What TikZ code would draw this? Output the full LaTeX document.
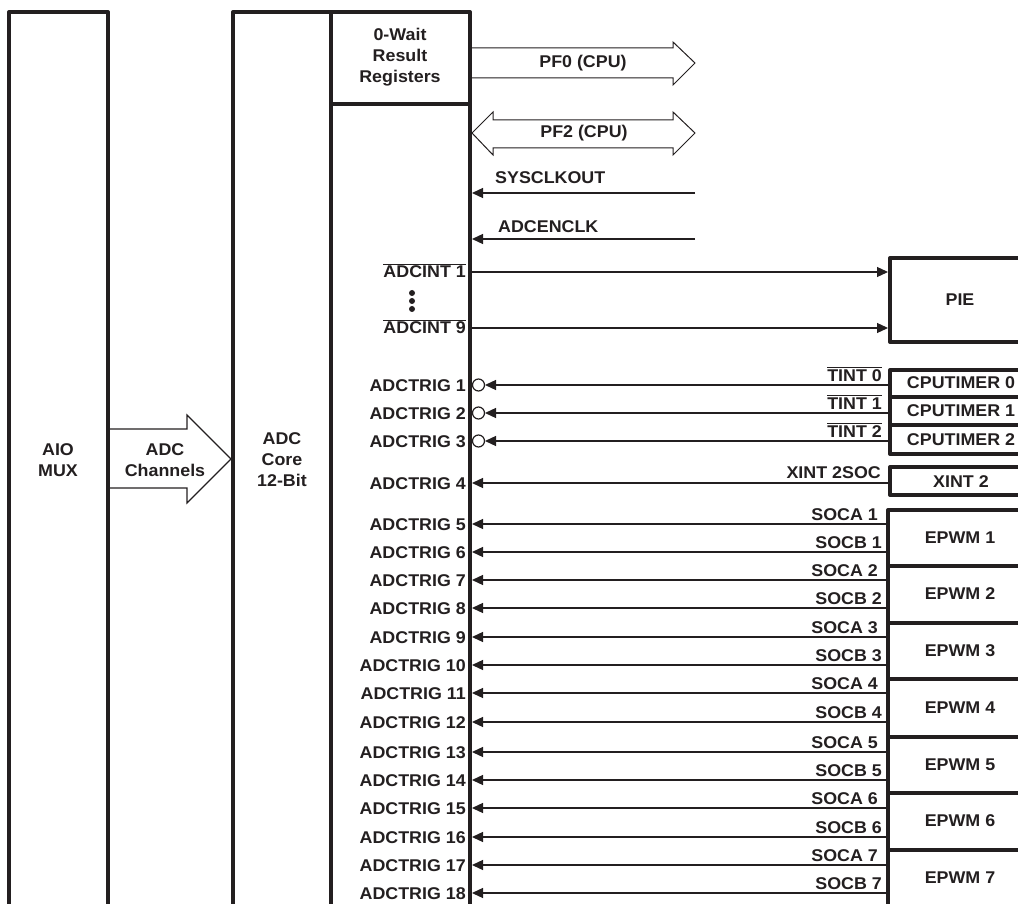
\documentclass[tikz,border=0pt]{standalone}
\usepackage{fontspec}
\setmainfont{Liberation Sans}[FakeStretch=1.05]
\usetikzlibrary{arrows.meta}
\definecolor{ink}{HTML}{231F20}
\newcommand{\ovl}[1]{\leavevmode\setbox0=\hbox{#1}\rlap{\rule[\dimexpr\ht0+1.2pt\relax]{\wd0}{1.3pt}}\box0}
\begin{document}
\begin{tikzpicture}[x=1pt,y=-1pt,
  boxline/.style={line width=4pt, draw=ink, line join=round},
  sig/.style={line width=1.3pt, draw=ink},
  arr/.style={-{Triangle[length=11pt,width=10pt]}},
  hollow/.style={line width=1pt, draw=ink},
  lab/.style={font=\fontsize{17}{21}\selectfont\bfseries, text=ink, inner sep=0pt},
  bubble/.style={line width=1.2pt, draw=ink, fill=white}]
\useasboundingbox (0,0) rectangle (1018,904);
\clip (0,0) rectangle (1018,904);

% AIO MUX
\draw[boxline] (9,915) -- (9,12) -- (108,12) -- (108,915);
\node[lab, align=center] (mux) at (58,460) {AIO\\MUX};

% ADC core + result registers
\draw[boxline] (233,915) -- (233,12) -- (470,12) -- (470,915);
\draw[boxline] (331,12) -- (331,915);
\draw[boxline] (331,104) -- (470,104);
\node[lab, align=center] (core) at (282,460) {ADC\\Core\\12-Bit};
\node[lab, align=center] (regs) at (400,57) {0-Wait\\Result\\Registers};

% ADC channels arrow
\coordinate (muxR) at (110,459);
\coordinate (coreL) at (231,459);
\draw[hollow, line width=1.2pt] (muxR |- 0,429) -- (187,429) -- (187,415) -- (coreL) -- (187,503) -- (187,488) -- (muxR |- 0,488);
\node[lab, align=center] (chan) at (165,460) {ADC\\Channels};

% PF0 / PF2
\draw[hollow] (472,48) -- (673,48) -- (673,42) -- (695,63) -- (673,85) -- (673,78) -- (472,78);
\node[lab] (pf0) at (583,63) {PF0 (CPU)};
\draw[hollow] (472,133) -- (493,112) -- (493,120) -- (673,120) -- (673,112) -- (695,133) -- (673,155) -- (673,148) -- (493,148) -- (493,155) -- cycle;
\node[lab] (pf2) at (584,133) {PF2 (CPU)};

% clocks
\coordinate (sysR) at (695,193); \coordinate (sysL) at (472,193);
\draw[sig,arr] (sysR) -- (sysL);
\node[lab, anchor=base west] (sys) at (495,184) {SYSCLKOUT};
\coordinate (encR) at (695,239); \coordinate (encL) at (472,239);
\draw[sig,arr] (encR) -- (encL);
\node[lab, anchor=base west] (enc) at (498,233) {ADCENCLK};

% PIE
\draw[boxline] (1030,258) -- (890,258) -- (890,342) -- (1030,342);
\node[lab] (pie) at (960,300) {PIE};
\coordinate (int1s) at (472,272); \coordinate (int1e) at (888,272);
\coordinate (int9s) at (472,328); \coordinate (int9e) at (888,328);
\draw[sig,arr] (int1s) -- (int1e);
\draw[sig,arr] (int9s) -- (int9e);
\node[lab, anchor=base east] (int1) at (466,278) {\ovl{ADCINT 1}};
\node[lab, anchor=base east] (int9) at (466,334) {\ovl{ADCINT 9}};
\foreach \d in {293,301,309} \fill[ink] (412,\d) circle (3);

% CPU timers
\draw[boxline] (1030,370) -- (890,370) -- (890,454) -- (1030,454);
\draw[boxline] (890,397) -- (1030,397);
\draw[boxline] (890,425) -- (1030,425);
\foreach \k/\y/\c in {1/385/383, 2/413/411, 3/441/440}{
  \pgfmathtruncatemacro{\t}{\k-1}
  \node[lab, anchor=base east] (trig\k) at (466,\y+6) {ADCTRIG \k};
  \coordinate (tsrc\k) at (888,\y);
  \coordinate (tdst\k) at (485,\y);
  \draw[bubble] (478.5,\y) circle (6);
  \draw[sig,arr] (tsrc\k) -- (tdst\k);
  \node[lab, anchor=base east] (tint\k) at (882,\y-4) {\ovl{TINT \t}};
  \node[lab] (timer\k) at (961,\c) {CPUTIMER \t};
}

% XINT2
\draw[boxline] (1030,467) -- (890,467) -- (890,495) -- (1030,495);
\node[lab] (xint) at (961,482) {XINT 2};
\node[lab, anchor=base east] (trig4) at (466,489) {ADCTRIG 4};
\coordinate (src4) at (888,483); \coordinate (dst4) at (472,483);
\draw[sig,arr] (src4) -- (dst4);
\node[lab, anchor=base east] (xsoc) at (881,478) {XINT 2SOC};

% EPWM boxes
\draw[boxline] (888,915) -- (888,510) -- (1030,510);
\foreach \y in {566,623,679,737,793,850} \draw[boxline] (888,\y) -- (1030,\y);
\foreach \k/\y in {1/538, 2/594, 3/651, 4/708, 5/765, 6/821, 7/878}
  \node[lab] (epwm\k) at (960,\y) {EPWM \k};

\foreach \n/\y/\s/\sx in {5/524/SOCA 1/878, 6/552/SOCB 1/882, 7/580/SOCA 2/878, 8/608/SOCB 2/882, 9/637/SOCA 3/878, 10/665/SOCB 3/882, 11/693/SOCA 4/878, 12/722/SOCB 4/882, 13/752/SOCA 5/878, 14/780/SOCB 5/882, 15/808/SOCA 6/878, 16/837/SOCB 6/882, 17/865/SOCA 7/878, 18/893/SOCB 7/882}{
  \node[lab, anchor=base east] (trig\n) at (466,\y+6) {ADCTRIG \n};
  \coordinate (src\n) at (886,\y);
  \coordinate (dst\n) at (472,\y);
  \draw[sig,arr] (src\n) -- (dst\n);
  \node[lab, anchor=base east] (soc\n) at (\sx,\y-3.5) {\s};
}
\end{tikzpicture}
\end{document}
